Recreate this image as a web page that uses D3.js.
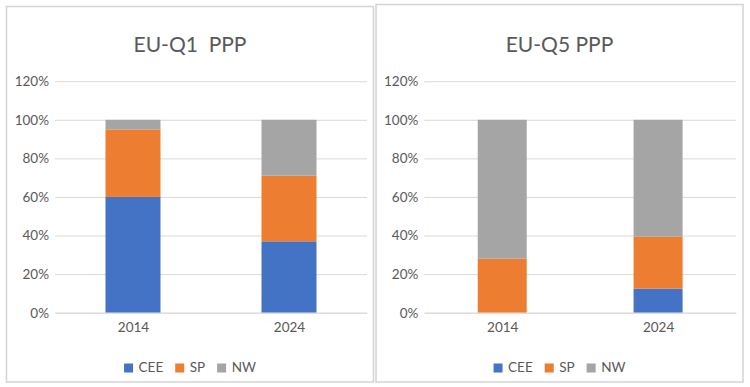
<!DOCTYPE html>
<html><head><meta charset="utf-8">
<script src="https://cdn.jsdelivr.net/npm/d3@7"></script>
<style>
html,body{margin:0;padding:0;background:#fff;}
text{font-family:Lato,"Open Sans",sans-serif;fill:#595959;}
</style></head>
<body>
<svg id="chart" width="750" height="387"></svg>
<script>
// ---- data ----
const categories = ["2014", "2024"];
const seriesNames = ["CEE", "SP", "NW"];
const seriesColors = ["#4472C4", "#ED7D31", "#A5A5A5"];
const yTicks = [0, 0.2, 0.4, 0.6, 0.8, 1.0, 1.2];

const q1Title = "EU-Q1  PPP";
const q1CEE = [0.60, 0.37];
const q1SP  = [0.35, 0.34];
const q1NW  = [0.05, 0.29];

const q5Title = "EU-Q5 PPP";
const q5CEE = [0.00, 0.125];
const q5SP  = [0.28, 0.27];
const q5NW  = [0.72, 0.605];

const svg = d3.select("#chart");

function panel(cfg) {
  const g = svg.append("g");
  g.append("rect")
    .attr("x", cfg.box[0]).attr("y", cfg.box[1])
    .attr("width", cfg.box[2]).attr("height", cfg.box[3])
    .attr("fill", "#fff").attr("stroke", "#d4d4d4").attr("stroke-width", 1.5);

  const cx = cfg.box[0] + cfg.box[2] / 2;
  g.append("text").attr("x", cx).attr("y", 51.5)
    .attr("text-anchor", "middle").style("font-size", "21px")
    .style("white-space", "pre").text(cfg.title);

  const y = d3.scaleLinear().domain([0, 1.2]).range([312.7, 81.2]);
  const x = d3.scalePoint().domain(categories).range([cfg.x0, cfg.x1]).padding(0.5);

  // gridlines
  const yAxis = d3.axisLeft(y).tickValues(yTicks).tickFormat(d3.format(".0%"))
    .tickSize(-(cfg.x1 - cfg.x0)).tickPadding(6);
  const ya = g.append("g").attr("transform", `translate(${cfg.x0},0)`).call(yAxis);
  ya.select(".domain").remove();
  ya.selectAll(".tick line").attr("stroke", "#d9d9d9").attr("stroke-width", 1);
  ya.selectAll(".tick text").style("font-size", "13.5px").style("font-family", "Lato").attr("fill", "#595959");

  // stacked data
  const rows = categories.map((c, i) => ({cat: c, CEE: cfg.data[0][i], SP: cfg.data[1][i], NW: cfg.data[2][i]}));
  const stack = d3.stack().keys(seriesNames)(rows);
  stack.forEach((s, si) => {
    g.append("g").attr("fill", seriesColors[si]).selectAll("rect").data(s).join("rect")
      .attr("x", d => x(d.data.cat) - cfg.bw / 2)
      .attr("width", cfg.bw)
      .attr("y", d => y(d[1]))
      .attr("height", d => Math.max(0, y(d[0]) - y(d[1])));
  });

  // x axis
  const xAxis = d3.axisBottom(x).tickSize(0).tickPadding(10);
  const xa = g.append("g").attr("transform", `translate(0,${y(0)})`).call(xAxis);
  xa.select(".domain").attr("stroke", "#d9d9d9");
  xa.selectAll(".tick text").style("font-size", "13.5px").style("font-family", "Lato").attr("fill", "#595959");

  // legend
  const lg = g.append("g");
  let off = 0;
  seriesNames.forEach((n, i) => {
    const it = lg.append("g").attr("transform", `translate(${off},0)`);
    it.append("rect").attr("x", 0).attr("y", 363.5).attr("width", 9).attr("height", 9).attr("fill", seriesColors[i]);
    const t = it.append("text").attr("x", 14.5).attr("y", 372.3).style("font-size", "13.5px").text(n);
    off += 14.5 + t.node().getComputedTextLength() + 12;
  });
  const lw = off - 12;
  lg.attr("transform", `translate(${cx - lw / 2},0)`);
}

panel({title: q1Title, data: [q1CEE, q1SP, q1NW], box: [6.5, 6.5, 367, 375.5], x0: 55, x1: 367, bw: 55});
panel({title: q5Title, data: [q5CEE, q5SP, q5NW], box: [376, 4.5, 367, 377.5], x0: 424.3, x1: 736, bw: 49});
</script>
</body></html>
